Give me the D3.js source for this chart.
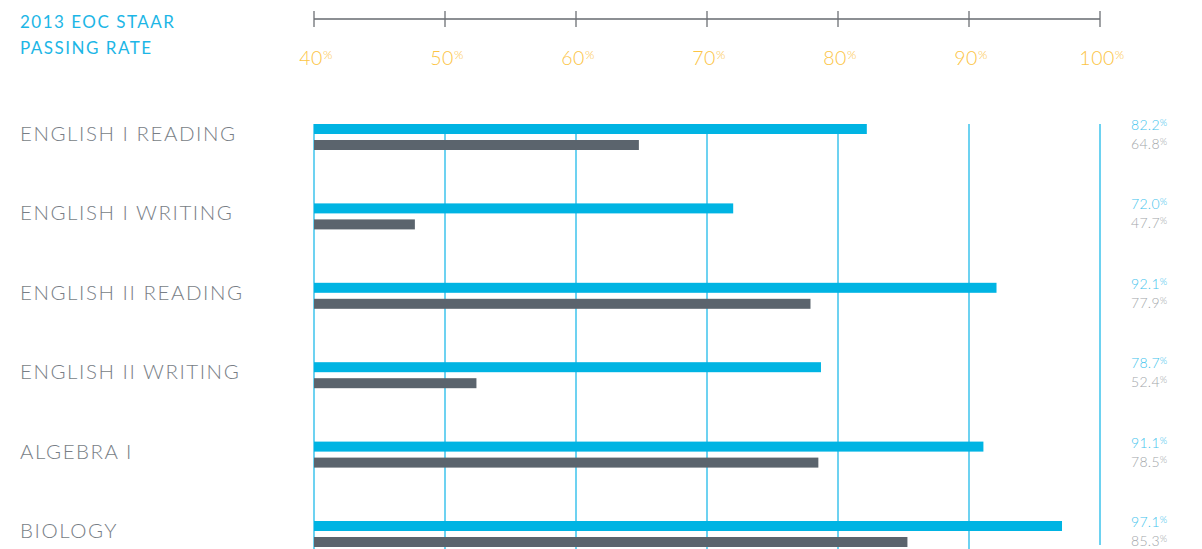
<!DOCTYPE html>
<html>
<head>
<meta charset="utf-8">
<script src="https://cdn.jsdelivr.net/npm/d3@7"></script>
<style>
  html, body { margin: 0; padding: 0; background: #ffffff; }
  svg { display: block; }
  text { font-family: "Lato", "Open Sans", sans-serif; }
</style>
</head>
<body>
<svg id="chart" width="1202" height="549"></svg>
<script>
const categories = ["ENGLISH I READING", "ENGLISH I WRITING", "ENGLISH II READING", "ENGLISH II WRITING", "ALGEBRA I", "BIOLOGY"];
const seriesA = [82.2, 72.0, 92.1, 78.7, 91.1, 97.1];   // blue bars
const seriesB = [64.8, 47.7, 77.9, 52.4, 78.5, 85.3];   // gray bars
const ticks = [40, 50, 60, 70, 80, 90, 100];
const titleLines = ["2013 EOC STAAR", "PASSING RATE"];

const svg = d3.select("#chart");
const x = d3.scaleLinear().domain([40, 100]).range([314, 1100]);
const y = d3.scaleBand().domain(categories).range([124, 124 + 6 * 79.4]).padding(0);

const BLUE = "#00b4e3", GRAY = "#5b646d", GRID = "#3dc3ec";

// title
svg.append("g").selectAll("text").data(titleLines).join("text")
  .attr("x", 20).attr("y", (d, i) => 28 + i * 26)
  .attr("fill", "#1cb6e6").attr("font-size", 17).attr("letter-spacing", 1.5)
  .text(d => d);

// top axis
const ax = svg.append("g");
ax.append("line").attr("x1", x(40)).attr("x2", x(100)).attr("y1", 19).attr("y2", 19)
  .attr("stroke", "#8c8f93").attr("stroke-width", 2);
ax.selectAll("line.tick").data(ticks).join("line").attr("class", "tick")
  .attr("x1", d => x(d)).attr("x2", d => x(d)).attr("y1", 11).attr("y2", 27)
  .attr("stroke", "#6d7075").attr("stroke-width", 1.3);
const tl = ax.selectAll("text").data(ticks).join("text")
  .attr("x", d => x(d) + 2).attr("y", 65).attr("text-anchor", "middle")
  .attr("fill", "#fcc444").attr("font-size", 19.5).attr("font-weight", 300)
  .attr("letter-spacing", 0.5);
tl.append("tspan").text(d => d);
tl.append("tspan").attr("font-size", 12).attr("dy", -6).text("%");

// gridlines
svg.append("g").selectAll("line").data(ticks).join("line")
  .attr("x1", d => x(d)).attr("x2", d => x(d))
  .attr("y1", 124).attr("y2", d => d === 100 ? 545 : 549)
  .attr("stroke", GRID).attr("stroke-width", 1.5);

// category labels
svg.append("g").selectAll("text").data(categories).join("text")
  .attr("x", 20).attr("y", d => y(d) + 17)
  .attr("fill", "#787e86").attr("font-size", 20.5).attr("font-weight", 300)
  .attr("letter-spacing", 1.55)
  .text(d => d);

// bars
svg.append("g").selectAll("rect").data(categories).join("rect")
  .attr("x", x(40)).attr("y", d => y(d))
  .attr("width", (d, i) => x(seriesA[i]) - x(40)).attr("height", 10)
  .attr("fill", BLUE);
svg.append("g").selectAll("rect").data(categories).join("rect")
  .attr("x", x(40)).attr("y", d => y(d) + 16)
  .attr("width", (d, i) => x(seriesB[i]) - x(40)).attr("height", 10)
  .attr("fill", GRAY);

// value labels
function valueLabels(vals, dy, color) {
  const t = svg.append("g").selectAll("text").data(categories).join("text")
    .attr("x", 1131).attr("y", d => y(d) + dy)
    .attr("fill", color).attr("font-size", 14).attr("font-weight", 300)
    .attr("letter-spacing", 0.3);
  t.append("tspan").text((d, i) => vals[i].toFixed(1));
  t.append("tspan").attr("font-size", 9.5).attr("dy", -4).text("%");
}
valueLabels(seriesA, 6, "#3fc4ed");
valueLabels(seriesB, 25, "#a3a7ab");
</script>
</body>
</html>
